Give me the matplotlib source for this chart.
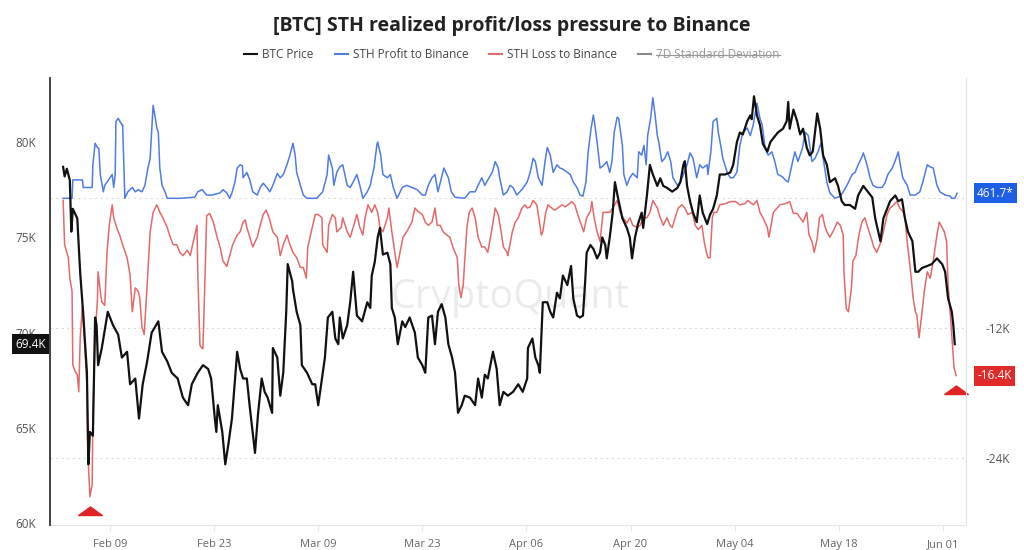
import matplotlib
matplotlib.use("Agg")
import matplotlib.pyplot as plt
import matplotlib.dates as mdates
import matplotlib.transforms as mtransforms
from matplotlib.lines import Line2D
from matplotlib.path import Path
import numpy as np

plt.rcParams['font.family'] = ['Open Sans', 'DejaVu Sans']

START = np.datetime64('2026-02-09T00:00')

# BTC price (thousand USD), x = days since Feb 09
price_day = [-6.3, -6.1, -5.8, -5.4, -5.2, -5.0, -4.4, -4.0, -3.6, -3.1, -2.9, -2.7, -2.3, -2.0, -1.8, -1.6,
             -1.1, -0.3, 0.4, 1.1, 1.6, 2.3, 2.7, 3.4, 3.9, 4.4, 5.0, 5.6, 6.5, 7.0, 7.7, 8.3, 9.1, 9.8,
             10.5, 11.0, 11.8, 12.5, 13.2, 13.6, 14.1, 14.3, 14.5, 15.1, 15.5, 15.9, 16.4, 17.1, 17.5, 17.9,
             18.4, 18.8, 19.5, 19.9, 20.4, 20.8, 21.2, 21.8, 21.9, 22.5, 22.9, 23.3, 23.7, 23.9, 24.5, 24.6,
             25.1, 25.6, 25.8, 26.5, 27.2, 27.6, 28.0, 28.5, 28.9, 29.3, 29.9, 30.3, 30.7, 30.9, 31.3, 31.9,
             32.3, 32.7, 33.2, 33.9, 34.6, 35.0, 35.2, 35.6, 36.0, 36.3, 36.7, 37.3, 37.7, 37.9, 38.3, 38.7,
             39.3, 39.7, 40.3, 41.0, 41.4, 42.0, 42.4, 42.8, 43.3, 43.7, 44.1, 44.6, 45.1, 45.5, 46.0, 46.4,
             46.8, 47.3, 47.7, 48.4, 49.1, 49.5, 50.0, 50.4, 50.8, 51.5, 52.0, 52.4, 52.9, 53.5, 54.2, 54.9,
             55.5, 56.1, 56.2, 56.8, 57.2, 57.6, 57.8, 58.2, 58.8, 59.2, 59.6, 60.1, 60.5, 60.9, 61.5, 62.0,
             62.3, 62.8, 63.2, 63.6, 63.9, 64.1, 64.6, 65.0, 65.5, 65.9, 66.2, 66.6, 66.8, 67.2, 67.6, 67.9,
             68.3, 68.9, 69.5, 69.9, 70.2, 70.6, 71.0, 71.5, 71.7, 72.2, 72.6, 73.0, 73.6, 74.0, 74.4, 74.9,
             75.6, 76.3, 76.7, 77.1, 77.3, 77.6, 78.0, 78.4, 78.9, 79.3, 79.7, 80.3, 80.7, 81.1, 81.6, 82.0,
             82.7, 83.4, 83.8, 84.3, 84.7, 85.1, 85.7, 86.1, 86.3, 86.6, 87.0, 87.4, 87.8, 88.4, 88.8, 89.2,
             89.8, 90.5, 91.0, 91.2, 91.4, 91.9, 92.4, 92.8, 93.2, 93.7, 94.1, 94.5, 95.1, 95.5, 95.9, 96.4,
             96.8, 97.5, 97.9, 98.4, 98.8, 99.5, 100.2, 100.6, 101.3, 101.9, 102.5, 102.9, 103.6, 104.0,
             104.5, 104.9, 105.6, 106.0, 106.5, 106.9, 107.3, 107.9, 108.3, 108.7, 109.2, 109.9, 110.5,
             111.2, 111.9, 112.3, 112.7, 113.2, 113.4, 113.6]
price_k = [78.7, 78.2, 78.6, 78.0, 75.3, 76.5, 76.0, 73.1, 71.0, 67.9, 63.1, 64.8, 64.6, 70.8, 70.4, 68.3,
           69.2, 71.1, 70.4, 69.9, 68.7, 69.0, 67.3, 67.6, 65.5, 67.3, 68.5, 70.0, 70.6, 69.0, 68.5, 67.9, 67.6, 66.6,
           66.2, 67.3, 67.9, 68.3, 68.1, 67.6, 65.5, 64.8, 66.2, 64.8, 63.1, 64.1, 65.5, 69.0, 68.1, 67.6,
           67.6, 66.1, 63.7, 65.7, 67.6, 66.9, 66.6, 65.8, 69.2, 68.7, 66.7, 67.9, 71.1, 73.6, 72.7, 72.3,
           71.1, 70.4, 68.3, 67.9, 67.3, 67.3, 66.2, 67.6, 68.7, 70.8, 71.1, 69.7, 69.4, 70.8, 69.7, 70.4,
           71.6, 73.2, 70.9, 70.6, 71.6, 71.3, 73.0, 73.7, 75.0, 75.5, 74.1, 74.2, 73.6, 71.3, 70.8, 69.4,
           70.6, 70.3, 70.8, 70.0, 68.7, 68.3, 67.9, 70.8, 70.9, 69.4, 71.1, 71.5, 70.8, 69.4, 68.7, 67.9,
           65.8, 66.2, 66.7, 66.6, 66.2, 67.6, 66.6, 67.8, 67.6, 69.0, 68.1, 66.2, 66.9, 66.7, 66.9, 67.3,
           66.9, 67.6, 69.2, 69.7, 68.7, 68.3, 67.9, 71.6, 71.6, 71.1, 70.8, 72.1, 71.8, 73.0, 72.5, 73.5,
           71.8, 70.9, 70.8, 70.9, 72.7, 74.2, 74.6, 74.4, 73.9, 74.2, 75.0, 74.6, 73.9, 75.0, 76.3, 77.9,
           77.1, 76.0, 75.5, 75.0, 73.9, 75.0, 75.7, 76.3, 75.5, 77.2, 78.8, 78.3, 77.7, 78.1, 77.7, 77.6,
           77.4, 77.6, 77.9, 78.8, 79.0, 77.7, 76.9, 76.3, 75.8, 77.2, 76.3, 75.7, 76.2, 76.5, 77.2, 78.3,
           78.3, 78.4, 78.8, 80.0, 80.5, 80.4, 81.1, 81.4, 81.2, 82.4, 81.4, 80.9, 79.9, 79.5, 80.0, 80.2,
           80.5, 80.7, 81.1, 82.1, 80.7, 81.7, 81.1, 80.4, 80.7, 79.7, 79.3, 79.5, 81.5, 80.7, 79.3, 78.8,
           77.9, 78.1, 77.7, 76.9, 76.7, 76.7, 76.5, 77.2, 77.7, 77.4, 77.1, 76.0, 74.8, 76.0,
           76.5, 76.9, 77.2, 76.9, 77.0, 76.0, 75.3, 74.8, 73.2, 73.2, 73.4, 73.5, 73.6,
           73.9, 73.6, 73.2, 71.8, 71.1, 70.4, 69.4]

# STH profit sent to Binance (thousand BTC), right axis
profit_day = [-6.3, -5.4, -5.1, -5.0, -3.7, -3.6, -2.4, -2.3, -2.0, -1.7, -1.5, -1.3, -0.9, -0.7, 0.0, 0.3,
              0.5, 0.7, 0.8, 1.1, 1.6, 1.7, 2.0, 2.4, 3.0, 3.4, 3.8, 4.3, 4.7, 5.1, 5.4, 5.8, 6.1, 6.3, 6.5,
              6.7, 7.0, 7.4, 7.7, 9.4, 11.4, 11.8, 12.4, 13.0, 13.7, 14.8, 15.2, 15.7, 16.1, 16.4, 16.8,
              17.1, 17.5, 17.8, 17.9, 18.4, 18.8, 19.2, 19.8, 20.2, 20.6, 21.1, 21.5, 21.9, 22.5, 22.9,
              23.3, 23.8, 24.2, 24.6, 24.9, 25.1, 25.6, 26.0, 26.5, 27.8, 28.2, 28.6, 29.2, 29.4, 29.9,
              30.1, 30.5, 30.9, 31.3, 31.9, 32.3, 32.7, 33.2, 33.6, 34.0, 34.6, 35.0, 35.2, 35.5, 35.9,
              36.0, 36.4, 36.7, 37.3, 37.7, 38.1, 38.6, 39.3, 39.9, 40.6, 41.3, 42.0, 42.4, 42.8, 43.3,
              43.7, 44.1, 44.6, 44.9, 45.5, 45.9, 46.4, 47.7, 48.4, 49.1, 49.5, 50.0, 50.4, 50.8, 51.4,
              51.8, 52.2, 52.4, 52.9, 53.4, 53.8, 54.2, 54.7, 55.1, 55.5, 56.1, 56.5, 56.9, 57.2, 57.6,
              58.1, 58.5, 58.8, 59.2, 59.6, 60.1, 60.5, 60.9, 61.5, 61.9, 62.3, 62.8, 63.2, 63.6, 64.0,
              64.3, 64.7, 65.0, 65.2, 65.5, 65.9, 66.3, 66.8, 67.2, 67.5, 67.8, 68.2, 68.4, 68.9, 69.1,
              69.5, 69.9, 70.3, 70.9, 71.1, 71.5, 71.8, 72.1, 72.3, 72.7, 73.0, 73.3, 73.6, 73.8, 74.2,
              74.6, 75.0, 75.4, 75.7, 76.3, 76.7, 77.1, 77.6, 78.0, 78.4, 78.9, 79.3, 79.7, 80.3, 80.4,
              80.8, 81.1, 81.6, 81.8, 82.2, 82.4, 83.0, 83.4, 83.8, 84.3, 84.7, 85.1, 85.7, 86.1, 86.5,
              87.0, 87.4, 87.7, 88.1, 88.5, 89.0, 89.4, 89.8, 90.4, 90.8, 91.2, 91.7, 92.1, 92.5, 93.1,
              93.5, 93.9, 94.4, 94.8, 95.2, 95.6, 95.9, 96.4, 96.8, 97.5, 98.2, 98.6, 99.1, 99.8, 100.2,
              100.6, 101.1, 101.3, 101.8, 102.2, 102.6, 103.1, 103.8, 104.2, 104.6, 105.2, 105.6, 106.0,
              106.2, 106.6, 107.2, 107.6, 108.3, 108.9, 109.3, 109.9, 110.3, 110.7, 111.2, 111.6, 112.3,
              113.0, 113.2, 113.6, 113.9]
profit_k = [0.0, 0.0, 0.0, 1.7, 1.7, 1.0, 1.0, 3.1, 5.1, 4.7, 4.6, 2.2, 0.6, 1.2, 1.9, 2.2,
            1.0, 2.2, 7.1, 7.4, 6.8, 6.8, 0.0, 0.6, 1.0, 0.6, 0.8, 0.6, 1.2, 2.8, 3.7, 8.6, 7.4, 6.5, 6.1,
            2.8, 1.2, 0.6, 0.0, 0.0, 0.1, 0.6, 0.8, 0.3, 0.3, 0.5, 0.8, 0.5, 0.0, 0.5, 1.5,
            2.8, 3.1, 3.0, 1.9, 2.4, 1.7, 0.6, 0.3, 1.0, 1.4, 1.0, 0.6, 1.2, 2.3, 1.9,
            2.2, 3.1, 4.0, 5.1, 4.0, 2.4, 1.2, 0.3, 0.0, 0.0, 0.3, 0.6, 2.2, 4.0, 2.8,
            1.2, 2.4, 2.9, 3.1, 1.2, 1.0, 1.5, 2.2, 1.2, 0.0, 0.6, 1.2, 1.9, 2.8, 5.0,
            5.2, 4.0, 2.2, 1.9, 2.2, 1.0, 0.0, 1.0, 1.2, 1.0, 0.8, 0.3, 0.3, 1.2, 1.9,
            2.2, 0.6, 2.0, 2.8, 1.9, 0.6, 0.1, 0.0, 0.6, 0.6, 1.2, 1.9, 1.2, 1.7, 2.4,
            3.4, 2.8, 1.9, 0.3, 0.6, 1.2, 1.0, 0.3, 0.6, 0.9, 1.5, 2.4, 3.7, 3.4, 1.9,
            1.2, 3.4, 4.7, 4.0, 2.4, 3.1, 2.8, 2.7, 2.4, 2.2, 1.5, 1.0, 0.3, 0.2, 1.5,
            4.3, 6.5, 7.7, 6.8, 5.2, 2.8, 3.0, 3.4, 2.4, 3.4, 6.1, 7.5, 7.4, 4.9, 2.2,
            1.2, 1.9, 2.3, 1.9, 4.3, 4.0, 4.9, 3.1, 5.8, 7.4, 9.3, 7.7, 5.8, 5.2, 3.4,
            3.7, 4.3, 3.4, 1.9, 1.2, 1.5, 2.2, 3.1, 4.2, 3.7, 1.9, 3.1, 2.8, 3.1, 2.2,
            4.3, 7.1, 7.4, 6.1, 4.6, 3.7, 2.4, 1.9, 1.9, 2.4, 4.9, 6.1, 6.5, 5.8, 6.8,
            8.8, 7.4, 6.8, 4.6, 4.0, 4.3, 3.4, 2.2, 2.0, 1.7, 1.5, 3.1, 4.3, 3.4, 4.6,
            6.1, 5.8, 3.4, 3.7, 4.3, 5.1, 3.7, 1.5, 0.5, 0.0, 0.2, 0.6, 1.2, 2.2, 2.4,
            3.1, 3.8, 4.2, 3.1, 1.9, 1.2, 1.0, 1.0, 1.4, 2.2, 2.8, 3.5, 4.3,
            3.4, 1.9, 1.2, 0.3, 0.3, 0.6, 1.5, 3.1, 2.9, 2.8, 1.2, 0.6, 0.3,
            0.2, 0.0, 0.0, 0.4617]

# STH loss sent to Binance (thousand BTC), right axis
loss_day = [-6.3, -6.1, -5.6, -5.4, -5.1, -5.0, -4.7, -4.4, -4.2, -4.0, -3.7, -3.6, -3.4, -3.1, -3.0, -2.7,
            -2.4, -2.3, -2.0, -1.7, -1.6, -1.3, -1.1, -0.7, -0.4, -0.1, 0.3, 0.5, 0.9, 1.3, 1.7, 2.3, 2.7,
            3.0, 3.4, 3.8, 4.0, 4.3, 4.6, 5.0, 5.4, 5.8, 6.3, 6.7, 7.1, 7.7, 8.1, 8.5, 9.0, 9.4, 9.8,
            10.4, 10.8, 11.2, 11.7, 11.8, 12.1, 12.4, 12.5, 12.8, 13.0, 13.4, 13.9, 14.4, 14.8, 15.2,
            15.7, 16.1, 16.5, 17.1, 17.5, 17.9, 18.2, 18.4, 18.8, 19.2, 19.8, 20.2, 20.6, 21.0, 21.4,
            21.9, 22.5, 22.9, 23.3, 23.8, 24.2, 24.6, 25.1, 25.6, 26.0, 26.4, 26.6, 27.2, 27.6, 28.0,
            28.5, 28.6, 29.2, 29.4, 29.9, 30.3, 30.5, 31.1, 31.3, 31.9, 32.3, 32.7, 33.2, 33.6, 34.0,
            34.3, 34.7, 35.2, 35.6, 36.0, 36.3, 36.7, 37.3, 37.5, 37.9, 38.3, 38.6, 39.0, 39.4, 39.9,
            40.6, 41.0, 41.4, 42.0, 42.4, 42.8, 43.3, 43.7, 44.0, 44.4, 44.8, 45.3, 45.7, 46.1, 46.7,
            46.9, 47.2, 47.5, 47.7, 48.0, 48.3, 48.7, 49.1, 49.5, 50.0, 50.4, 50.8, 51.4, 51.8, 52.2,
            52.6, 52.9, 53.4, 53.5, 54.1, 54.5, 54.9, 55.4, 55.8, 56.1, 56.5, 56.9, 57.4, 57.6, 58.0,
            58.2, 58.6, 58.9, 59.4, 59.8, 60.2, 60.8, 61.2, 61.6, 62.1, 62.5, 62.9, 63.5, 63.7, 64.1,
            64.6, 64.8, 65.1, 65.5, 65.9, 66.3, 66.8, 67.2, 67.6, 68.2, 68.6, 69.0, 69.5, 69.9, 70.3,
            70.9, 71.3, 71.7, 72.2, 72.6, 73.0, 73.6, 74.0, 74.4, 74.9, 75.3, 75.6, 76.0, 76.4, 76.9,
            77.3, 77.7, 78.3, 78.7, 79.1, 79.6, 79.9, 80.2, 80.4, 80.7, 81.0, 81.2, 81.6, 82.0, 82.7,
            83.4, 84.1, 84.7, 85.4, 85.8, 86.5, 87.0, 87.4, 87.8, 88.4, 88.6, 88.9, 89.2, 89.7, 90.1,
            90.8, 91.4, 91.9, 92.4, 92.8, 93.2, 93.7, 94.0, 94.4, 94.7, 95.1, 95.4, 95.8, 96.1, 96.4,
            96.8, 97.2, 97.8, 98.2, 98.6, 98.7, 99.0, 99.3, 99.7, 99.9, 100.3, 100.7, 101.1, 101.5,
            101.9, 102.5, 102.7, 103.1, 103.7, 104.0, 104.5, 104.9, 105.4, 105.8, 106.2, 106.6, 106.9,
            107.2, 107.6, 108.0, 108.3, 108.5, 108.8, 109.2, 109.5, 109.9, 110.3, 110.7, 111.2, 111.5,
            111.9, 112.2, 112.5, 112.7, 113.1, 113.4, 113.5, 113.8]
loss_k = [-0.2, -4.3, -5.5, -7.4, -8.6, -15.4, -16.0, -16.3, -17.9, -12.9, -9.9, -11.1, -13.6, -17.3, -23.3, -27.6,
          -26.5, -20.3, -12.6, -9.6, -6.8, -8.6, -9.6, -9.9, -5.0, -2.5, -0.6, -1.8, -2.7, -3.4, -4.3, -5.5, -7.1,
          -10.5, -8.3, -8.6, -9.2, -11.9, -12.6, -8.0, -3.1, -1.3, -0.6, -1.3, -1.8, -2.7, -3.6, -4.3, -4.3, -5.0, -5.3,
          -4.8, -5.3, -4.0, -2.5, -6.8, -13.6, -13.9, -13.9, -6.8, -1.6, -1.4, -2.2, -3.6, -4.5, -5.8,
          -6.3, -5.3, -4.3, -3.4, -3.1, -2.2, -2.0, -2.7, -3.6, -4.5, -3.6, -2.5, -1.5, -1.1, -1.8,
          -3.1, -3.6, -5.3, -4.3, -3.4, -4.3, -5.0, -5.5, -6.4, -6.4, -7.4, -4.5, -2.7, -1.5, -1.5,
          -1.8, -4.3, -5.0, -2.5, -1.5, -1.8, -3.1, -2.7, -1.8, -3.1, -3.6, -2.7, -1.5, -2.7, -3.4,
          -1.8, -0.6, -1.3, -0.6, -1.3, -2.7, -3.1, -1.8, -0.9, -3.1, -5.0, -6.4, -5.0, -3.6, -3.1,
          -2.2, -0.9, -1.2, -1.5, -2.2, -2.5, -2.2, -0.9, -2.5, -2.5, -3.1, -3.4, -3.6, -4.5, -5.5,
          -8.0, -9.2, -8.0, -5.8, -2.7, -1.3, -0.9, -1.8, -3.6, -4.5, -4.5, -5.0, -2.7, -0.9, -1.5,
          -3.1, -4.5, -5.0, -5.3, -3.1, -2.2, -1.8, -0.9, -0.6, -0.9, -0.8, -0.2, -0.6, -1.5, -3.4,
          -3.1, -1.3, -0.6, -0.9, -1.1, -0.9, -0.6, -0.8, -0.6, -0.3, -0.6, -1.5, -2.7, -3.1, -1.8,
          -1.2, -0.3, -1.8, -3.1, -4.0, -1.3, -1.3, -1.3, -0.9, -0.2, -1.3, -1.8, -2.3, -1.8, -2.5,
          -2.7, -2.5, -1.8, -1.8, -1.3, -0.2, -0.9, -1.8, -2.5, -1.8, -2.5, -2.7, -1.8, -0.9, -0.6,
          -0.9, -1.5, -1.3, -2.5, -2.9, -2.5, -4.0, -5.0, -5.5, -5.5, -1.8, -1.3, -1.3, -0.6, -0.5,
          -0.3, -0.3, -0.6, -0.5, -0.2, -0.6, -0.2, -1.3, -1.8, -2.7, -3.6, -2.5, -1.3, -0.9, -0.6,
          -0.5, -0.3, -1.4, -1.4, -1.8, -2.2, -1.3, -3.4, -4.0, -5.0, -3.7, -1.8, -1.5, -2.5, -3.1,
          -3.6, -3.1, -2.2, -2.5, -3.4, -6.8, -10.2, -10.5, -8.3, -5.8, -5.3, -3.4, -2.2, -1.8,
          -2.7, -4.0, -4.5, -5.0, -4.0, -3.1, -1.5, -0.9, -0.6, -0.3, -0.9, -1.2, -1.8,
          -4.0, -6.4, -9.2, -10.5, -10.8, -12.9, -10.5, -8.6, -6.8, -7.4, -5.8, -3.4, -2.2,
          -2.7, -3.1, -4.0, -8.0, -11.7, -14.8, -15.7, -16.4]

x_ticks = ['2026-02-09', '2026-02-23', '2026-03-09', '2026-03-23', '2026-04-06',
           '2026-04-20', '2026-05-04', '2026-05-18', '2026-06-01']
left_ticks = [60, 65, 70, 75, 80]
right_ticks = [-24, -12, 0]


def to_dates(days):
    return START + np.round(np.asarray(days) * 24 * 60).astype('timedelta64[m]')


fig = plt.figure(figsize=(10.24, 5.5), dpi=100)
ax = fig.add_axes([0.0488, 0.0455, 0.8945, 0.8127])
ax2 = ax.twinx()
ax.set_zorder(ax2.get_zorder() + 1)
ax.patch.set_visible(False)

ax.plot(to_dates(price_day), price_k, color='#111111', lw=1.6, zorder=3)
ax2.plot(to_dates(profit_day), profit_k, color='#4f7be3', lw=1.1)
ax2.plot(to_dates(loss_day), loss_k, color='#e36a6a', lw=1.1)

# red triangles under the deepest and the latest loss readings
tri = Path([(-1, 0), (1, 0), (0, 0.72), (-1, 0)], [Path.MOVETO, Path.LINETO, Path.LINETO, Path.CLOSEPOLY])
shift = ax2.transData + mtransforms.ScaledTranslation(0, -13 / 72, fig.dpi_scale_trans)
i_min = int(np.argmin(loss_k))
for i in (i_min, len(loss_k) - 1):
    ax2.plot(to_dates([loss_day[i]]), [loss_k[i]], marker=tri, markersize=17, color='#e02424',
             linestyle='none', transform=shift, clip_on=False)

ax.set_xlim(to_dates([-8.07])[0], to_dates([115.1])[0])
ax.set_ylim(59.92, 83.36)
ax2.set_ylim(-30.22, 11.13)

ax.set_xticks([np.datetime64(t) for t in x_ticks])
ax.xaxis.set_major_formatter(mdates.DateFormatter('%b %d'))
ax.tick_params(axis='x', length=4, color='#e6e6e6', labelcolor='#666666', labelsize=8, pad=6)
ax.set_yticks(left_ticks)
ax.set_yticklabels([f'{v}K' for v in left_ticks])
ax.tick_params(axis='y', length=0, labelcolor='#555555', labelsize=8.5, pad=10)
ax2.set_yticks(right_ticks)
# the zero label sits under the profit tag, so it stays blank
ax2.set_yticklabels([f'{v}K' if v else '' for v in right_ticks])
ax2.tick_params(axis='y', length=0, labelcolor='#555555', labelsize=8.5, pad=14)
ax2.grid(axis='y', color='#dcdcdc', linestyle=(0, (2, 3)), lw=0.8)

for s in ax.spines.values():
    s.set_visible(False)
ax.spines['left'].set_visible(True)
ax.spines['left'].set_color('#333333')
ax.spines['left'].set_linewidth(1.3)
for s in ('top', 'left'):
    ax2.spines[s].set_visible(False)
ax2.spines['right'].set_color('#e2e2e2')
ax2.spines['bottom'].set_color('#e6e6e6')

ax.text(0.502, 0.508, 'CryptoQuant', transform=ax.transAxes, fontsize=28.5, color='#000000',
        alpha=0.08, ha='center', va='center', zorder=0)

# last-value tags
ax2.annotate(f'{profit_k[-1] * 1000:.1f}*', xy=(1.0, profit_k[-1]), xycoords=('axes fraction', 'data'),
             xytext=(8, 0), textcoords='offset points', ha='left', va='center', color='white',
             fontsize=8.5, bbox=dict(boxstyle='square,pad=0.3', fc='#1f5fe6', ec='none'))
ax2.annotate(f'{loss_k[-1]:.1f}K', xy=(1.0, loss_k[-1]), xycoords=('axes fraction', 'data'),
             xytext=(8, 0), textcoords='offset points', ha='left', va='center', color='white',
             fontsize=8.5, bbox=dict(boxstyle='square,pad=0.3', fc='#e12a2a', ec='none'))
ax.annotate(f'{price_k[-1]:.1f}K', xy=(0.0, price_k[-1]), xycoords=('axes fraction', 'data'),
            xytext=(-3, 0), textcoords='offset points', ha='right', va='center', color='white',
            fontsize=8.5, bbox=dict(boxstyle='square,pad=0.3', fc='#111111', ec='none'), zorder=5)

fig.text(0.5, 0.953, '[BTC] STH realized profit/loss pressure to Binance', ha='center', va='center',
         fontsize=14, fontweight='bold', color='#222222')

handles = [Line2D([], [], color='#111111', lw=1.5), Line2D([], [], color='#4f7be3', lw=1.5),
           Line2D([], [], color='#e36a6a', lw=1.5), Line2D([], [], color='#888888', lw=1.5)]
labels = ['BTC Price', 'STH Profit to Binance', 'STH Loss to Binance', '7D Standard Deviation']
leg = fig.legend(handles, labels, loc='center', bbox_to_anchor=(0.5, 0.9), ncol=4, frameon=False,
                 fontsize=8.5, handlelength=1.1, handletextpad=0.4, columnspacing=1.8)
for t in leg.get_texts():
    t.set_color('#444444')
leg.get_texts()[3].set_color('#999999')

# hidden series: strike through its legend label
fig.canvas.draw()
bb = leg.get_texts()[3].get_window_extent().transformed(fig.transFigure.inverted())
ymid = (bb.y0 + bb.y1) / 2
fig.add_artist(Line2D([bb.x0, bb.x1], [ymid, ymid], color='#999999', lw=0.9, transform=fig.transFigure))

fig.savefig('out.png', dpi=100)
